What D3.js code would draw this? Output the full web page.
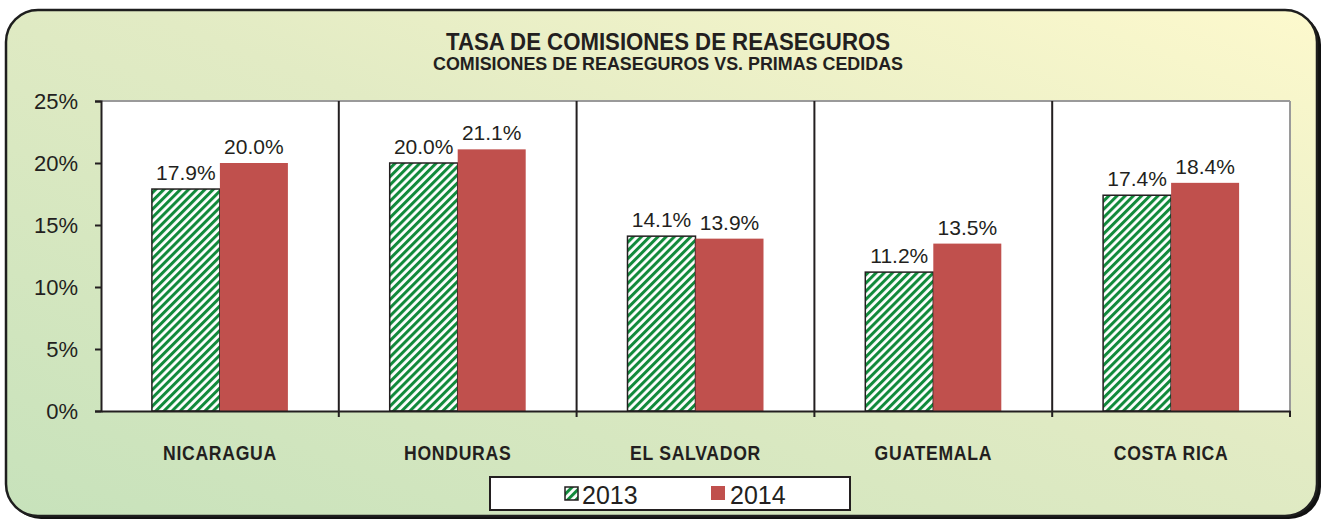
<!DOCTYPE html>
<meta charset="utf-8">
<style>
body { margin: 0; background: #fff; }
text { font-family: "Liberation Sans", Arial, sans-serif; fill: #231f20; }
</style>
<body>
<script src="https://d3js.org/d3.v7.min.js"></script>
<script>

var countries = ["NICARAGUA", "HONDURAS", "EL SALVADOR", "GUATEMALA", "COSTA RICA"];
var years = ["2013", "2014"];
var values2013 = [17.9, 20.0, 14.1, 11.2, 17.4];
var values2014 = [20.0, 21.1, 13.9, 13.5, 18.4];
var yTicks = [0, 5, 10, 15, 20, 25];

var W = 1323, H = 522;
var margin = {top: 101, right: 33, bottom: 111, left: 101},
    width = W - margin.left - margin.right,
    height = H - margin.top - margin.bottom;

var svg = d3.select("body").append("svg")
    .attr("width", W)
    .attr("height", H);

var defs = svg.append("defs");
var grad = defs.append("linearGradient")
    .attr("id", "bg")
    .attr("x1", "0%").attr("y1", "100%")
    .attr("x2", "100%").attr("y2", "0%");
grad.append("stop").attr("offset", "0%").attr("stop-color", "#c7e2bb");
grad.append("stop").attr("offset", "55%").attr("stop-color", "#e2ebc4");
grad.append("stop").attr("offset", "100%").attr("stop-color", "#fdf9cd");

var pat = defs.append("pattern")
    .attr("id", "hatch")
    .attr("patternUnits", "userSpaceOnUse")
    .attr("width", 5.8).attr("height", 5.8)
    .attr("patternTransform", "rotate(45)");
pat.append("rect").attr("width", 5.8).attr("height", 5.8).attr("fill", "#fff");
pat.append("rect").attr("width", 3).attr("height", 5.8).attr("fill", "#118a3b");

// condense text to a fraction of its natural width
function squeeze(sel, k) {
    sel.each(function() {
        var w = this.getComputedTextLength();
        d3.select(this).attr("textLength", w * k).attr("lengthAdjust", "spacingAndGlyphs");
    });
}

// frame with shadow
svg.append("rect")
    .attr("x", 9).attr("y", 13)
    .attr("width", 1312).attr("height", 506)
    .attr("rx", 32)
    .attr("fill", "#111");
svg.append("rect")
    .attr("x", 6).attr("y", 10)
    .attr("width", 1311).attr("height", 506)
    .attr("rx", 32)
    .attr("fill", "url(#bg)")
    .attr("stroke", "#1e1e1e")
    .attr("stroke-width", 2.5);

// titles
svg.append("text")
    .attr("x", 668).attr("y", 50)
    .attr("text-anchor", "middle")
    .attr("font-weight", "bold")
    .attr("font-size", 23)
    .attr("textLength", 444)
    .attr("lengthAdjust", "spacingAndGlyphs")
    .text("TASA DE COMISIONES DE REASEGUROS");
svg.append("text")
    .attr("x", 668).attr("y", 70)
    .attr("text-anchor", "middle")
    .attr("font-weight", "bold")
    .attr("font-size", 17.5)
    .attr("textLength", 470)
    .attr("lengthAdjust", "spacingAndGlyphs")
    .text("COMISIONES DE REASEGUROS VS. PRIMAS CEDIDAS");

var g = svg.append("g")
    .attr("transform", "translate(" + margin.left + "," + margin.top + ")");

var x0 = d3.scaleBand().domain(countries).range([0, width]).paddingInner(0).paddingOuter(0);
var x1 = d3.scaleBand().domain(years).range([0, 136]);
var y = d3.scaleLinear().domain([0, 25]).range([height, 0]);

// plot background
g.append("rect")
    .attr("width", width).attr("height", height)
    .attr("fill", "#fff");
g.append("line")
    .attr("x1", 0).attr("x2", width)
    .attr("y1", 0).attr("y2", 0)
    .attr("stroke", "#9a9a9a").attr("stroke-width", 2);
g.append("line")
    .attr("x1", width).attr("x2", width)
    .attr("y1", 0).attr("y2", height)
    .attr("stroke", "#9a9a9a").attr("stroke-width", 2);

// category separators
var seps = countries.slice(1).map(function(c) { return x0(c); });
g.selectAll(".sep")
    .data(seps)
    .enter().append("line")
    .attr("x1", function(d) { return d; })
    .attr("x2", function(d) { return d; })
    .attr("y1", 0).attr("y2", height + 6)
    .attr("stroke", "#231f20").attr("stroke-width", 2);
g.append("line")
    .attr("x1", width).attr("x2", width)
    .attr("y1", height).attr("y2", height + 6)
    .attr("stroke", "#231f20").attr("stroke-width", 2);

var groups = g.selectAll(".grp")
    .data(countries)
    .enter().append("g")
    .attr("transform", function(d) {
        return "translate(" + (x0(d) + x0.bandwidth() / 2 - 68) + ",0)";
    });

groups.append("rect")
    .attr("x", x1("2013"))
    .attr("y", function(d, i) { return y(values2013[i]); })
    .attr("width", x1.bandwidth())
    .attr("height", function(d, i) { return height - y(values2013[i]); })
    .attr("fill", "url(#hatch)")
    .attr("stroke", "#231f20")
    .attr("stroke-width", 1.5);

groups.append("rect")
    .attr("x", x1("2014"))
    .attr("y", function(d, i) { return y(values2014[i]); })
    .attr("width", x1.bandwidth())
    .attr("height", function(d, i) { return height - y(values2014[i]); })
    .attr("fill", "#c0504d");

groups.append("text")
    .attr("x", x1("2013") + x1.bandwidth() / 2)
    .attr("y", function(d, i) { return y(values2013[i]) - 9; })
    .attr("text-anchor", "middle")
    .attr("font-size", 21)
    .text(function(d, i) { return values2013[i].toFixed(1) + "%"; });

groups.append("text")
    .attr("x", x1("2014") + x1.bandwidth() / 2)
    .attr("y", function(d, i) { return y(values2014[i]) - 9; })
    .attr("text-anchor", "middle")
    .attr("font-size", 21)
    .text(function(d, i) { return values2014[i].toFixed(1) + "%"; });

// y axis
var yAxis = g.append("g")
    .call(d3.axisLeft(y).tickValues(yTicks).tickSize(6).tickPadding(17)
        .tickFormat(function(d) { return d + "%"; }));
yAxis.select(".domain").attr("stroke", "#231f20").attr("stroke-width", 2);
yAxis.selectAll(".tick line").attr("stroke", "#231f20").attr("stroke-width", 2);
yAxis.selectAll(".tick text")
    .attr("font-size", 22)
    .attr("fill", "#231f20")
    .attr("font-family", "Liberation Sans, Arial, sans-serif");

// x axis
var xAxis = g.append("g")
    .attr("transform", "translate(0," + height + ")")
    .call(d3.axisBottom(x0).tickSize(0).tickPadding(35));
xAxis.select(".domain").attr("stroke", "#231f20").attr("stroke-width", 2);
xAxis.selectAll(".tick text")
    .attr("font-size", 20)
    .attr("font-weight", "bold")
    .attr("letter-spacing", 0.8)
    .attr("fill", "#231f20")
    .attr("font-family", "Liberation Sans, Arial, sans-serif")
    .call(squeeze, 0.88);

// legend
var leg = svg.append("g").attr("transform", "translate(490,477)");
leg.append("rect")
    .attr("width", 360).attr("height", 33)
    .attr("fill", "#fff")
    .attr("stroke", "#231f20").attr("stroke-width", 2);
leg.append("rect")
    .attr("x", 75).attr("y", 10)
    .attr("width", 13).attr("height", 13)
    .attr("fill", "url(#hatch)")
    .attr("stroke", "#231f20").attr("stroke-width", 1.5);
leg.append("text")
    .attr("x", 92).attr("y", 27)
    .attr("font-size", 25)
    .text(years[0]);
leg.append("rect")
    .attr("x", 221).attr("y", 9)
    .attr("width", 14).attr("height", 14)
    .attr("fill", "#c0504d");
leg.append("text")
    .attr("x", 240).attr("y", 27)
    .attr("font-size", 25)
    .text(years[1]);

</script>
</body>
